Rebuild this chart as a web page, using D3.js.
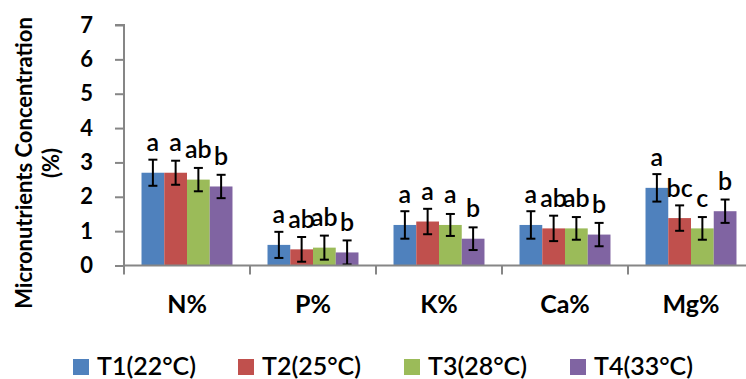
<!DOCTYPE html>
<html>
<head>
<meta charset="utf-8">
<script src="https://cdn.jsdelivr.net/npm/d3@7/dist/d3.min.js"></script>
<style>
  html, body { margin: 0; padding: 0; background: #fff; overflow: hidden; }
  svg { display: block; font-family: Lato, "Open Sans", sans-serif; }
</style>
</head>
<body>
<svg id="chart" width="746" height="379"></svg>
<script>
// Nutrient categories along the x axis
const categories = ["N%", "P%", "K%", "Ca%", "Mg%"];

// Temperature treatments (legend entries)
const treatments = ["T1(22°C)", "T2(25°C)", "T3(28°C)", "T4(33°C)"];
const treatmentColors = ["#4F81BD", "#C0504D", "#9BBB59", "#8064A2"];

// Mean concentration (%) per treatment, in category order
const t1Mean = [2.70, 0.60, 1.18, 1.18, 2.26];
const t2Mean = [2.70, 0.47, 1.28, 1.08, 1.38];
const t3Mean = [2.50, 0.52, 1.18, 1.08, 1.08];
const t4Mean = [2.30, 0.38, 0.78, 0.90, 1.58];

// Error (± value) per treatment
const t1Err = [0.38, 0.38, 0.40, 0.40, 0.40];
const t2Err = [0.35, 0.36, 0.37, 0.37, 0.37];
const t3Err = [0.34, 0.35, 0.32, 0.33, 0.33];
const t4Err = [0.34, 0.35, 0.33, 0.34, 0.34];

// Significance letters per treatment
const t1Letters = ["a", "a", "a", "a", "a"];
const t2Letters = ["a", "ab", "a", "ab", "bc"];
const t3Letters = ["ab", "ab", "a", "ab", "c"];
const t4Letters = ["b", "b", "b", "b", "b"];

// Y axis ticks
const yTicks = [0, 1, 2, 3, 4, 5, 6, 7];

const means = [t1Mean, t2Mean, t3Mean, t4Mean];
const errs = [t1Err, t2Err, t3Err, t4Err];
const letters = [t1Letters, t2Letters, t3Letters, t4Letters];

const rows = [];
categories.forEach((cat, ci) => {
  treatments.forEach((tr, ti) => {
    rows.push({ cat, tr, ti, value: means[ti][ci], err: errs[ti][ci], letter: letters[ti][ci] });
  });
});

const svg = d3.select("#chart");
const axisColor = "#868686";

const plotLeft = 124, plotTop = 25, plotBottom = 265.5;
const catStep = 126;

const x0 = d3.scaleBand()
  .domain(categories)
  .range([plotLeft, plotLeft + catStep * categories.length])
  .paddingInner(0).paddingOuter(0);

const x1 = d3.scaleBand()
  .domain(treatments)
  .range([0, x0.bandwidth()])
  .paddingInner(0)
  .paddingOuter(0.77);

const y = d3.scaleLinear().domain([0, 7]).range([plotBottom, plotTop]);

const color = d3.scaleOrdinal().domain(treatments).range(treatmentColors);

// Bars
svg.append("g").selectAll("rect")
  .data(rows)
  .join("rect")
  .attr("x", d => x0(d.cat) + x1(d.tr))
  .attr("y", d => y(d.value))
  .attr("width", x1.bandwidth())
  .attr("height", d => y(0) - y(d.value))
  .attr("fill", d => color(d.tr));

// Error bars
const eb = svg.append("g").attr("stroke", "#000").attr("stroke-width", 2);
const capHalf = 4.5;
rows.forEach(d => {
  const cx = x0(d.cat) + x1(d.tr) + x1.bandwidth() / 2;
  const top = y(d.value + d.err), bot = y(d.value - d.err);
  eb.append("line").attr("x1", cx).attr("x2", cx).attr("y1", top).attr("y2", bot);
  eb.append("line").attr("x1", cx - capHalf).attr("x2", cx + capHalf).attr("y1", top).attr("y2", top);
  eb.append("line").attr("x1", cx - capHalf).attr("x2", cx + capHalf).attr("y1", bot).attr("y2", bot);
});

// Significance letters
svg.append("g").selectAll("text")
  .data(rows)
  .join("text")
  .attr("x", d => x0(d.cat) + x1(d.tr) + x1.bandwidth() / 2)
  .attr("y", d => y(d.value) - 21.5)
  .attr("text-anchor", "middle")
  .attr("font-size", 25)
  .attr("font-weight", 600)
  .attr("fill", "#000")
  .text(d => d.letter);

// Y axis
const yAxis = d3.axisLeft(y).tickValues(yTicks).tickSize(9).tickPadding(22).tickFormat(d3.format("d"));
const gy = svg.append("g").attr("transform", `translate(${plotLeft},0)`).call(yAxis);
gy.select(".domain").attr("stroke", axisColor).attr("stroke-width", 2)
  .attr("d", `M-9,${plotTop}H0V${plotBottom + 9}`);
gy.selectAll(".tick line").attr("stroke", axisColor).attr("stroke-width", 2);
gy.selectAll(".tick text")
  .attr("font-family", "Lato, sans-serif")
  .attr("font-size", 22).attr("font-weight", 700).attr("fill", "#000");

// X axis
const xAxis = d3.axisBottom(x0).tickSize(0).tickPadding(30);
const gx = svg.append("g").attr("transform", `translate(0,${plotBottom})`).call(xAxis);
gx.select(".domain").attr("stroke", axisColor).attr("stroke-width", 2)
  .attr("d", `M${plotLeft},0H${plotLeft + catStep * categories.length}`);
gx.selectAll(".tick text")
  .attr("font-family", "Lato, sans-serif")
  .attr("font-size", 25).attr("font-weight", 700).attr("fill", "#000");
// Category boundary ticks
gx.append("g").selectAll("line")
  .data(categories)
  .join("line")
  .attr("x1", d => x0(d) + x0.bandwidth()).attr("x2", d => x0(d) + x0.bandwidth())
  .attr("y1", 0).attr("y2", 9)
  .attr("stroke", axisColor).attr("stroke-width", 2);

// Y axis title
const title = svg.append("text")
  .attr("transform", "translate(0,163) rotate(-90)")
  .attr("text-anchor", "middle")
  .attr("font-size", 22)
  .attr("font-weight", 700)
  .attr("fill", "#000");
title.append("tspan").attr("x", 0).attr("y", 32).text("Micronutrients Concentration");
title.append("tspan").attr("x", 0).attr("y", 59).text("(%)");

// Legend
const legendX = [73, 238, 404, 570];
const legend = svg.append("g").selectAll("g")
  .data(treatments)
  .join("g")
  .attr("transform", (d, i) => `translate(${legendX[i]},359)`);
legend.append("rect").attr("width", 16).attr("height", 16).attr("fill", d => color(d));
legend.append("text")
  .attr("x", 24).attr("y", 16)
  .attr("font-size", 25).attr("font-weight", 600).attr("fill", "#000")
  .text(d => d);
</script>
</body>
</html>
